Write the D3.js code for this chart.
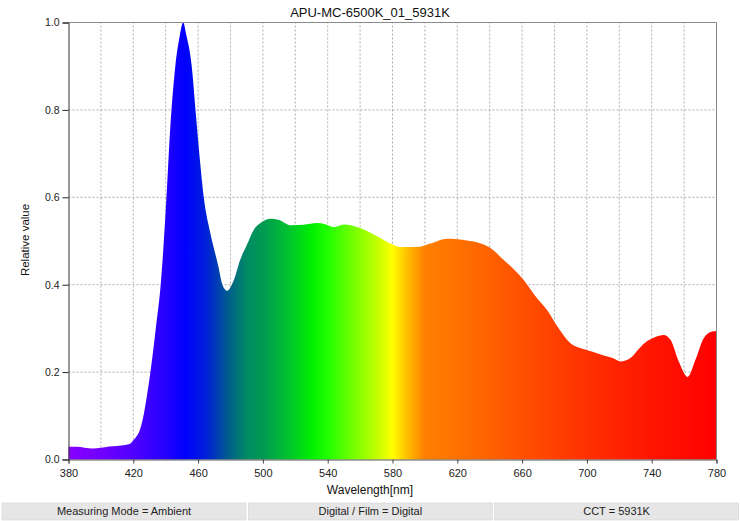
<!DOCTYPE html>
<html>
<head>
<meta charset="utf-8">
<script src="https://cdn.jsdelivr.net/npm/d3@7"></script>
<style>
    body { margin: 0; background: #fff; font-family: "Liberation Sans", Arial, sans-serif; }
</style>
</head>
<body>
<div id="chart"></div>
<script>
//Spectrum data
const wavelengths = [380, 385, 390, 395, 400, 405, 410, 415, 418, 420, 422, 424, 426, 428, 431, 434, 437, 440, 443, 446, 448.7, 450.8, 452.8, 456, 458.4, 461, 463.5, 467.5, 472.5, 475, 478, 482, 486, 490, 494.4, 498.5, 504.7, 510, 517, 525, 533.5, 538, 543.8, 550, 560, 570.5, 580.8, 585, 590, 597, 603.5, 613.7, 620, 626, 634, 640, 648.5, 655, 661, 668, 675.4, 682, 689.8, 696, 703, 710.4, 716, 720.7, 726.9, 732, 737.2, 742, 747.4, 751.6, 756.7, 762.2, 767, 772, 777.3, 780];
const values = [0.029, 0.029, 0.027, 0.025, 0.027, 0.030, 0.031, 0.033, 0.036, 0.044, 0.053, 0.067, 0.095, 0.136, 0.212, 0.304, 0.404, 0.57, 0.77, 0.902, 0.97, 1.0, 0.97, 0.902, 0.80, 0.69, 0.60, 0.519, 0.442, 0.40, 0.386, 0.41, 0.457, 0.49, 0.526, 0.541, 0.551, 0.548, 0.536, 0.537, 0.541, 0.539, 0.532, 0.538, 0.530, 0.511, 0.491, 0.486, 0.486, 0.487, 0.494, 0.505, 0.504, 0.501, 0.495, 0.485, 0.457, 0.435, 0.411, 0.375, 0.342, 0.303, 0.266, 0.255, 0.247, 0.238, 0.232, 0.224, 0.232, 0.253, 0.271, 0.280, 0.285, 0.274, 0.224, 0.189, 0.228, 0.277, 0.293, 0.294];

//Colour of each wavelength
const colorStops = [380, 400, 420, 440, 452, 465, 478, 490, 500, 515, 530, 540, 555, 570, 580, 590, 600, 630, 660, 700, 740, 780];
const stopColors = ["#8800ff", "#7000ff", "#5000ff", "#2400ff", "#0000ff", "#0020d8", "#005a90", "#008a64", "#009a50", "#00c030", "#00f000", "#20ff00", "#70ff00", "#c0ff00", "#ffff00", "#ffb800", "#ff8000", "#ff6a00", "#ff5000", "#ff3000", "#ff1500", "#ff0000"];

const xTicks = [380, 420, 460, 500, 540, 580, 620, 660, 700, 740, 780];
const xGrid = [400, 420, 440, 460, 480, 500, 520, 540, 560, 580, 600, 620, 640, 660, 680, 700, 720, 740, 760];
const yTicks = [0, 0.2, 0.4, 0.6, 0.8, 1.0];

const title = "APU-MC-6500K_01_5931K";
const infoBoxes = ["Measuring Mode = Ambient", "Digital / Film = Digital", "CCT = 5931K"];

//Width and height
var w = 740;
var h = 521;
var margin = { top: 22.5, right: 23.5, bottom: 61.5, left: 68.5 };

var svg = d3.select("#chart")
    .append("svg")
    .attr("width", w)
    .attr("height", h);

var x = d3.scaleLinear()
    .domain([380, 780])
    .range([margin.left, w - margin.right]);

var y = d3.scaleLinear()
    .domain([0, 1])
    .range([h - margin.bottom, margin.top]);

//Gradient along wavelength
var grad = svg.append("defs")
    .append("linearGradient")
    .attr("id", "spectrum")
    .attr("gradientUnits", "userSpaceOnUse")
    .attr("x1", x(380)).attr("x2", x(780))
    .attr("y1", 0).attr("y2", 0);

grad.selectAll("stop")
    .data(colorStops)
    .join("stop")
    .attr("offset", d => (d - 380) / 400)
    .attr("stop-color", (d, i) => stopColors[i]);

//Grid
svg.append("g")
    .selectAll("line")
    .data(xGrid)
    .join("line")
    .attr("x1", d => x(d)).attr("x2", d => x(d))
    .attr("y1", y(0)).attr("y2", y(1))
    .attr("stroke", "#9a9a9a")
    .attr("stroke-width", 0.8)
    .attr("stroke-dasharray", "2,2");

svg.append("g")
    .selectAll("line")
    .data([0.2, 0.4, 0.6, 0.8])
    .join("line")
    .attr("x1", x(380)).attr("x2", x(780))
    .attr("y1", d => y(d)).attr("y2", d => y(d))
    .attr("stroke", "#9a9a9a")
    .attr("stroke-width", 0.8)
    .attr("stroke-dasharray", "2,2");

//Spectrum area
var area = d3.area()
    .x((d, i) => x(wavelengths[i]))
    .y0(y(0))
    .y1(d => y(d))
    .curve(d3.curveMonotoneX);

svg.append("path")
    .datum(values)
    .attr("d", area)
    .attr("fill", "url(#spectrum)");

//Frame top and right
svg.append("path")
    .attr("d", `M${x(380)},${y(1)}H${x(780)}V${y(0)}`)
    .attr("fill", "none")
    .attr("stroke", "#8a8a8a")
    .attr("stroke-width", 1);

//Axes
var xAxis = svg.append("g")
    .attr("transform", `translate(0,${y(0)})`)
    .call(d3.axisBottom(x).tickValues(xTicks).tickSize(4).tickPadding(6).tickFormat(d3.format("d")));

var yAxis = svg.append("g")
    .attr("transform", `translate(${x(380)},0)`)
    .call(d3.axisLeft(y).tickValues(yTicks).tickSize(6).tickPadding(3).tickFormat(d3.format(".1f")));

xAxis.select(".domain").attr("stroke", "#555");
yAxis.select(".domain").attr("stroke", "#333");
xAxis.selectAll(".tick line").attr("stroke", "#444");
yAxis.selectAll(".tick line").attr("stroke", "#222");
xAxis.selectAll("text")
    .style("font-family", "Liberation Sans, Arial, sans-serif")
    .style("font-size", "11px")
    .attr("fill", "#222");
yAxis.selectAll("text")
    .style("font-family", "Liberation Sans, Arial, sans-serif")
    .style("font-size", "10.5px")
    .attr("fill", "#222");

//Title and axis labels
svg.append("text")
    .attr("x", 370)
    .attr("y", 17)
    .attr("text-anchor", "middle")
    .style("font-size", "13px")
    .attr("fill", "#111")
    .text(title);

svg.append("text")
    .attr("x", 370)
    .attr("y", 494)
    .attr("text-anchor", "middle")
    .style("font-size", "12px")
    .attr("fill", "#111")
    .text("Wavelength[nm]");

svg.append("text")
    .attr("transform", "translate(29,240) rotate(-90)")
    .attr("text-anchor", "middle")
    .style("font-size", "11.5px")
    .attr("fill", "#111")
    .text("Relative value");

//Info bar at the bottom
var boxW = 244;
var info = svg.append("g")
    .selectAll("g")
    .data(infoBoxes)
    .join("g")
    .attr("transform", (d, i) => `translate(${2 + i * (boxW + 2.3)},503)`);

info.append("rect")
    .attr("width", boxW)
    .attr("height", 17)
    .attr("fill", "#e6e6e6")
    .attr("stroke", "#d4d4d4")
    .attr("stroke-width", 0.6);

info.append("text")
    .attr("x", boxW / 2)
    .attr("y", 12)
    .attr("text-anchor", "middle")
    .style("font-size", "11px")
    .attr("fill", "#222")
    .text(d => d);
</script>
</body>
</html>
